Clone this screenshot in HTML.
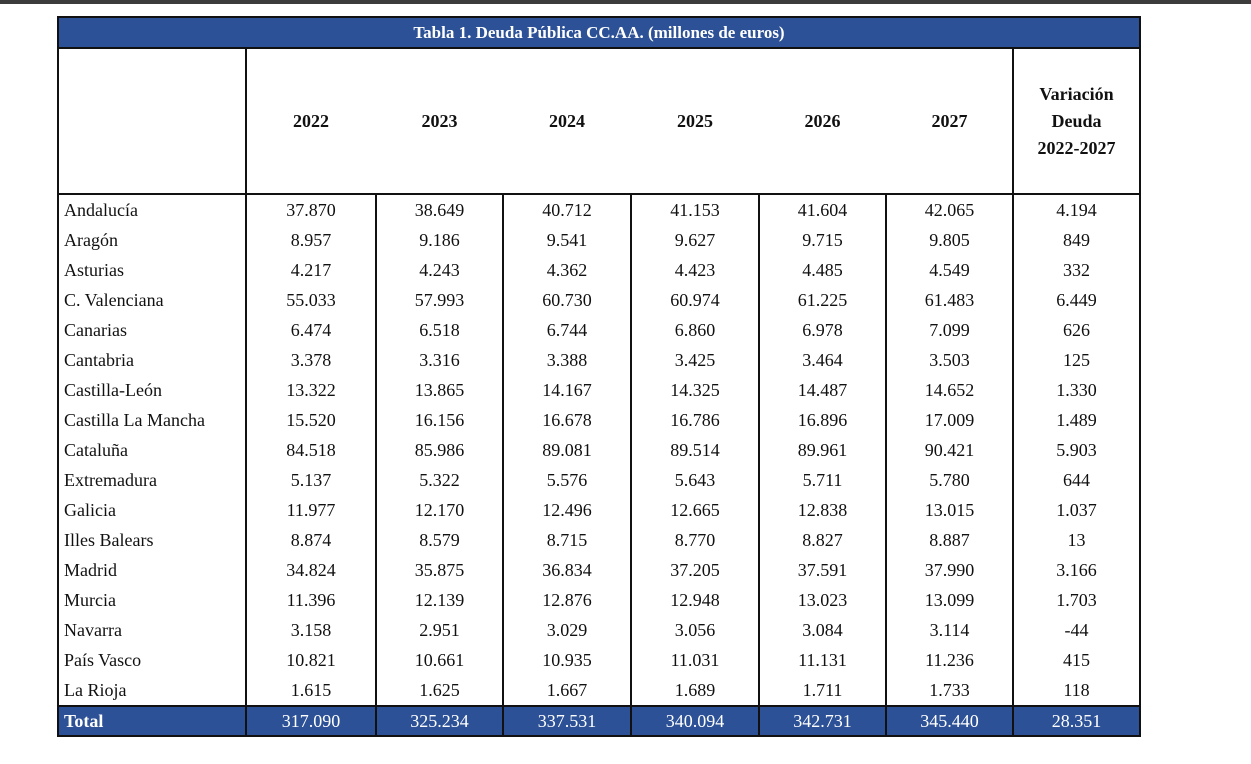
<!DOCTYPE html>
<html><head><meta charset="utf-8"><style>
body{margin:0;width:1251px;height:764px;background:#fff;position:relative;overflow:hidden;font-family:"Liberation Serif",serif;color:#111}
.topbar{position:absolute;left:0;top:0;width:1251px;height:4px;background:#3c3c3c}
.c{position:absolute;box-sizing:border-box;display:flex;align-items:center;justify-content:center;font-size:18px;white-space:nowrap}
.l{justify-content:flex-start;padding-left:6px}
.vl{position:absolute;width:2px;background:#111}
.hl{position:absolute;height:2px;background:#111}
</style></head><body>
<div class="topbar"></div>
<div id="tbl"></div>
<script>
const regions=["Andalucía","Aragón","Asturias","C. Valenciana","Canarias","Cantabria","Castilla-León","Castilla La Mancha","Cataluña","Extremadura","Galicia","Illes Balears","Madrid","Murcia","Navarra","País Vasco","La Rioja"];
const years=["2022","2023","2024","2025","2026","2027"];
const values=[
["37.870","38.649","40.712","41.153","41.604","42.065","4.194"],
["8.957","9.186","9.541","9.627","9.715","9.805","849"],
["4.217","4.243","4.362","4.423","4.485","4.549","332"],
["55.033","57.993","60.730","60.974","61.225","61.483","6.449"],
["6.474","6.518","6.744","6.860","6.978","7.099","626"],
["3.378","3.316","3.388","3.425","3.464","3.503","125"],
["13.322","13.865","14.167","14.325","14.487","14.652","1.330"],
["15.520","16.156","16.678","16.786","16.896","17.009","1.489"],
["84.518","85.986","89.081","89.514","89.961","90.421","5.903"],
["5.137","5.322","5.576","5.643","5.711","5.780","644"],
["11.977","12.170","12.496","12.665","12.838","13.015","1.037"],
["8.874","8.579","8.715","8.770","8.827","8.887","13"],
["34.824","35.875","36.834","37.205","37.591","37.990","3.166"],
["11.396","12.139","12.876","12.948","13.023","13.099","1.703"],
["3.158","2.951","3.029","3.056","3.084","3.114","-44"],
["10.821","10.661","10.935","11.031","11.131","11.236","415"],
["1.615","1.625","1.667","1.689","1.711","1.733","118"]];
const totals=["317.090","325.234","337.531","340.094","342.731","345.440","28.351"];
const cols=[58,246,376,503,631,759,886,1013,1140];
const T=document.getElementById('tbl');
const BLUE='#2d5196';
function cell(x,y,w,h,txt,cls,name){const d=document.createElement('div');d.className='c '+(cls||'');d.style.left=x+'px';d.style.top=y+'px';d.style.width=w+'px';d.style.height=h+'px';d.innerHTML=txt;


T.appendChild(d);return d;}
function line(cls,x,y,len,name){const d=document.createElement('div');d.className=cls;d.style.left=x+'px';d.style.top=y+'px';if(cls=='vl')d.style.height=len+'px';else d.style.width=len+'px';


T.appendChild(d);}
const W=cols[8]-cols[0];
let t=cell(58,17,W,31,'Tabla 1. Deuda Pública CC.AA. (millones de euros)','','table-title');
t.style.background=BLUE;t.style.color='#fff';t.style.fontWeight='bold';t.style.fontSize='17px';
years.forEach((y,i)=>{let h=cell(cols[i+1],48,cols[i+2]-cols[i+1],147,y,'','header-'+y);h.style.fontWeight='bold';});
let v=cell(cols[7],48,cols[8]-cols[7],147,'Variación<br>Deuda<br>2022-2027','','header-variation');v.style.fontWeight='bold';v.style.lineHeight='27px';v.style.textAlign='center';
const top0=195,rh=(706-195)/regions.length;
regions.forEach((r,i)=>{const y=top0+i*rh;
cell(cols[0],y,cols[1]-cols[0],rh,r,'l','region-'+i);
values[i].forEach((val,j)=>cell(cols[j+1],y,cols[j+2]-cols[j+1],rh,val,'','value-'+i+'-'+j));});
let tr=cell(58,706,W,30,'','','total-row-bg');tr.style.background=BLUE;
let tl=cell(cols[0],706,cols[1]-cols[0],30,'Total','l','total-label');tl.style.color='#fff';tl.style.fontWeight='bold';
totals.forEach((val,j)=>{let c=cell(cols[j+1],706,cols[j+2]-cols[j+1],30,val,'','total-'+j);c.style.color='#fff';});
line('hl',57,16,W+2,'border-top');line('hl',57,47,W+2,'border-title');line('hl',57,193,W+2,'border-header');
line('hl',57,705,W+2,'border-total');line('hl',57,735,W+2,'border-bottom');
line('vl',57,16,721,'border-left');line('vl',1139,16,721,'border-right');
line('vl',245,47,690,'col-line-1');line('vl',1012,47,690,'col-line-7');
for(let k=2;k<7;k++)line('vl',cols[k]-1,193,544,'col-line-'+k);
</script>
</body></html>
